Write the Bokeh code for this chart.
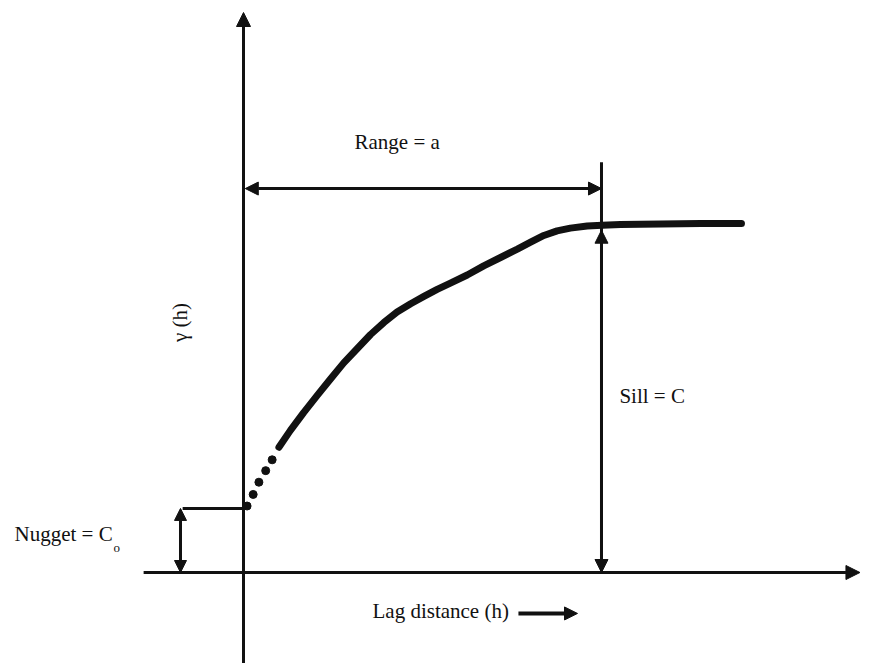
from bokeh.plotting import figure
from bokeh.models import Range1d, Arrow, NormalHead, Label
from bokeh.embed import file_html
from bokeh.resources import INLINE

# ---- data (lag units: range a = 10 ; gamma units: sill C = 10) ----
range_a = 10.0
sill_c = 10.0
nugget_c0 = 1.83

lag_dots = [0.10, 0.27, 0.43, 0.62, 0.80]
gamma_dots = [1.90, 2.23, 2.58, 2.91, 3.22]

lag_solid = [0.99, 1.31, 1.68, 2.06, 2.43, 2.80, 3.18, 3.55, 3.92, 4.29, 4.67, 5.04,
             5.41, 5.78, 6.25, 6.71, 7.18, 7.65, 8.02, 8.39, 8.76, 9.13, 9.60, 10.02,
             10.53, 11.65, 12.77, 13.91]
gamma_solid = [3.58, 4.06, 4.57, 5.06, 5.53, 5.99, 6.40, 6.80, 7.14, 7.44, 7.68, 7.89,
               8.09, 8.27, 8.50, 8.76, 9.00, 9.24, 9.44, 9.63, 9.76, 9.84, 9.90, 9.92,
               9.94, 9.96, 9.97, 9.97]

INK = "#111111"
SERIF = "Liberation Serif, Times New Roman, serif"

p = figure(width=861, height=663, output_backend="svg", toolbar_location=None,
           x_range=Range1d(-6.788, 17.263), y_range=Range1d(-2.6, 16.343),
           min_border=0)
p.xaxis.visible = False
p.yaxis.visible = False
p.grid.visible = False
p.outline_line_color = None
p.background_fill_color = "white"
p.border_fill_color = "white"

def head(size=13):
    return NormalHead(size=size, fill_color=INK, line_color=INK, line_width=1)

# axes with arrows
p.add_layout(Arrow(x_start=0, y_start=-2.9, x_end=0, y_end=16.0, end=head(14),
                   line_color=INK, line_width=3))
p.add_layout(Arrow(x_start=-2.79, y_start=0, x_end=17.22, y_end=0, end=head(14),
                   line_color=INK, line_width=3))

# nugget bracket
p.line([-1.70, 0], [nugget_c0, nugget_c0], line_color=INK, line_width=3)
p.add_layout(Arrow(x_start=-1.76, y_start=0, x_end=-1.76, y_end=nugget_c0,
                   start=head(12), end=head(12), line_color=INK, line_width=3))

# sill vertical line + range arrow
p.line([range_a, range_a], [0, 11.72], line_color=INK, line_width=3)
p.add_layout(Arrow(x_start=0.05, y_start=10.97, x_end=range_a, y_end=10.97,
                   start=head(13), end=head(13), line_color=INK, line_width=3))
p.add_layout(Arrow(x_start=range_a, y_start=0.0, x_end=range_a, y_end=sill_c - 0.22,
                   start=head(13), end=head(13), line_color=INK, line_width=3))

# variogram curve
p.scatter(lag_dots, gamma_dots, size=8, color=INK)
p.line(lag_solid, gamma_solid, line_color=INK, line_width=7, line_cap="round", line_join="round")

# lag distance small arrow
p.add_layout(Arrow(x_start=7.68, y_start=-1.17, x_end=9.33, y_end=-1.17, end=head(13),
                   line_color=INK, line_width=4))

def lab(x, y, text, size="21px", **kw):
    p.add_layout(Label(x=x, y=y, text=text, text_font=SERIF, text_font_size=size,
                       text_color=INK, **kw))

lab(3.10, 11.97, "Range = a")
lab(10.50, 4.714, "Sill = C")
lab(-6.397, 0.743, "Nugget = C")
lab(-3.631, 0.50, "o", size="13px")
lab(3.603, -1.43, "Lag distance (h)")
lab(-1.76, 7.14, "\u03b3 (h)", size="21px", angle=90, angle_units="deg",
    text_align="center", text_baseline="middle")

open("out.html", "w").write(file_html(p, INLINE))
